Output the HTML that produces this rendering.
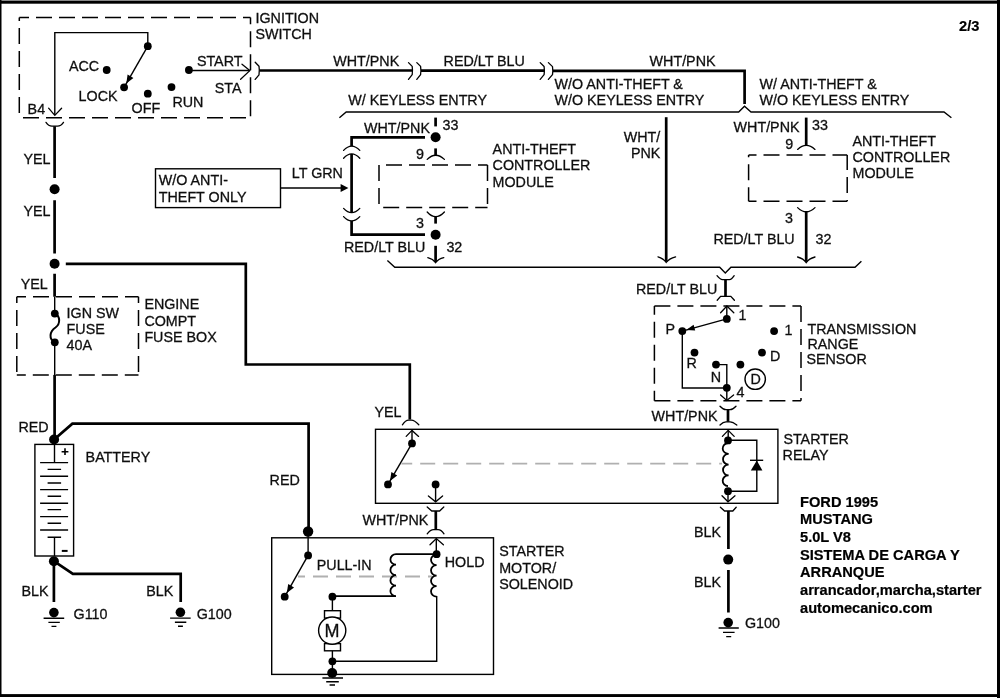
<!DOCTYPE html>
<html>
<head>
<meta charset="utf-8">
<title>Ford 1995 Mustang 5.0L V8 - Sistema de carga y arranque 2/3</title>
<style>
html,body{margin:0;padding:0;background:#fff;}
body{width:1000px;height:700px;overflow:hidden;}
svg{display:block;position:absolute;left:0;top:0;}
text{font-family:"Liberation Sans",sans-serif;font-size:14.3px;fill:#111;stroke:#111;stroke-width:0.3;}
.b{font-weight:bold;font-size:14.65px;fill:#000;stroke:#000;stroke-width:0.2;}
.tk{stroke:#000;stroke-width:2.7;fill:none;stroke-linejoin:miter;}
.tn{stroke:#000;stroke-width:1.4;fill:none;}
.cn{stroke:#000;stroke-width:1.3;fill:none;stroke-linecap:round;}
.ds{stroke:#000;stroke-width:1.5;fill:none;stroke-dasharray:16 7;}
.gd{stroke:#b0b0b0;stroke-width:1.8;fill:none;stroke-dasharray:15 8;}
.co{stroke:#000;stroke-width:1.8;fill:none;}
.d{fill:#000;}
</style>
</head>
<body>
<svg width="1000" height="700" viewBox="0 0 1000 700">
<rect x="0" y="0" width="1000" height="700" fill="#fff"/>
<!-- FRAME -->
<g id="frame">
<rect x="0" y="0" width="1000" height="1" fill="#888"/>
<rect x="0" y="1" width="1000" height="2.7" fill="#000"/>
<rect x="0" y="0" width="1.5" height="697" fill="#000"/>
<rect x="997" y="0" width="3" height="698" fill="#000"/>
<rect x="0" y="694.1" width="1000" height="2.9" fill="#000"/>
</g>
<defs><filter id="soft" x="0" y="0" width="1000" height="700" filterUnits="userSpaceOnUse"><feGaussianBlur stdDeviation="0.35"/></filter></defs>
<g id="content" filter="url(#soft)">
<!-- SECTION: ignition switch -->
<g id="ignition">
<!-- dashed box -->
<path class="ds" d="M19.3 17.6 H250.5" stroke-dasharray="17 6" stroke-dashoffset="6.3"/>
<path class="ds" d="M19.3 17.6 V117.7" stroke-dasharray="17 6" stroke-dashoffset="12.5"/>
<path class="ds" d="M19.3 117.7 H250.5" stroke-dasharray="17 6" stroke-dashoffset="19.3"/>
<path class="ds" d="M250.5 17.6 V117.7" stroke-dasharray="17 6.2" stroke-dashoffset="9.4"/>
<!-- inner wire -->
<path class="tn" d="M54.8 115 V32.6 H147.8 V46"/>
<path class="cn" d="M48.6 108.2 L54.8 115.4 L61.6 108.2"/>
<!-- contacts -->
<circle class="d" cx="147.8" cy="46.2" r="3.9"/>
<circle class="d" cx="106.7" cy="70" r="3.9"/>
<circle class="d" cx="124.1" cy="87.3" r="3.9"/>
<circle class="d" cx="147.8" cy="93.7" r="3.9"/>
<circle class="d" cx="171.5" cy="87.1" r="3.9"/>
<circle class="d" cx="188.9" cy="70" r="3.9"/>
<!-- wiper arrow -->
<path class="tn" d="M147.8 46.2 L124.1 87.3"/>
<path class="d" d="M126.3 83.4 L127.6 74.6 L133.4 78 Z"/>
<!-- start line -->
<path class="tn" d="M188.9 70.5 H249.8"/>
<path class="cn" d="M242 64.2 L249.8 70.6 L240.6 79.2"/>
<!-- connector at B4 -->
<path class="cn" d="M46 122.4 Q48.5 126.2 52 126.2 H57.5 Q61 126.2 63.5 122.4"/>
<!-- connector at START -->
<path class="cn" d="M255.2 62.2 L259 66.2 Q259.7 70.5 259 74.8 L255.2 79.4" stroke-linejoin="round"/>
</g>
<!-- SECTION: left column -->
<g id="leftcol">
<!-- YEL wire down from B4 -->
<path class="tk" d="M54.6 126.2 V178 M54.6 200.2 V253.6 M54.6 273.8 V296.8"/>
<circle class="d" cx="54.6" cy="189.3" r="5"/>
<circle class="d" cx="54.6" cy="263.8" r="5"/>
<!-- branch to relay -->
<path class="tk" d="M65.8 263.8 H245.8 V364.5 H409.8 V419.5"/>
<!-- fuse box -->
<path class="ds" d="M16.8 296.8 H138.5" stroke-dashoffset="6.8"/>
<path class="ds" d="M16.8 296.8 V374.9" stroke-dashoffset="9.8"/>
<path class="ds" d="M16.8 374.9 H138.5" stroke-dashoffset="7"/>
<path class="ds" d="M138.5 296.8 V374.9" stroke-dashoffset="9.8"/>
<path class="tn" d="M54.7 296.8 V313.6 M54.7 342.3 V375"/>
<circle class="d" cx="54.8" cy="313.6" r="3.9"/>
<circle class="d" cx="54.8" cy="342.3" r="3.9"/>
<path d="M54.8 313.6 C60.5 316 60.5 324 55.5 327.5 C49.5 331.5 48.5 339 54.8 342.3" stroke="#000" stroke-width="2" fill="none"/>
<!-- RED wire to battery -->
<path class="tk" d="M54.6 374.9 V439.5"/>
<circle class="d" cx="54.1" cy="439.5" r="5"/>
<path class="tk" d="M54.1 439.5 L72.4 423.7 H308.6 V531"/>
<circle class="d" cx="308.1" cy="531.5" r="5.2"/>
<!-- battery -->
<rect class="tn" x="34.9" y="444.4" width="38.7" height="111.6"/>
<path class="tn" d="M54.5 444.4 V462.6 M54.5 537.2 V556"/>
<path class="tn" d="M40.1 462.6 H68.1 M40.1 476.2 H68.1 M40.1 489.6 H68.1 M40.1 503.2 H68.1 M40.1 516.6 H68.1 M40.1 530 H68.1"/>
<path class="tn" d="M47.6 469.4 H61.1 M47.6 483 H61.1 M47.6 496.3 H61.1 M47.6 509.6 H61.1 M47.6 523.2 H61.1 M47.6 537.2 H61.1"/>
<path d="M61.6 451.7 H68.4 M65 448.3 V455.1" stroke="#000" stroke-width="1.6" fill="none"/>
<path d="M61.8 550.9 H67.6" stroke="#000" stroke-width="2" fill="none"/>
<!-- BLK wires -->
<circle class="d" cx="53.9" cy="561.2" r="5"/>
<path class="tk" d="M53.9 561 V602"/>
<path class="tk" d="M53.9 561.2 L72.9 573.9 H180.7 V602"/>
<!-- grounds -->
<circle class="d" cx="53.9" cy="612.6" r="4.8"/>
<path class="tn" d="M43.6 618.3 H64.2 M48.4 622.4 H59.8 M51.5 626.4 H56.4"/>
<circle class="d" cx="180.4" cy="612.3" r="4.8"/>
<path class="tn" d="M170.1 618.1 H190.7 M174.9 622.2 H186.3 M178 626.2 H182.9"/>
<!-- W/O anti-theft only box -->
<rect class="tn" x="155.5" y="168.8" width="125" height="38.8"/>
<path class="tn" d="M280.5 188 H343"/>
<path class="d" d="M348.4 188 L340.6 184 V192 Z"/>
</g>
<!-- SECTION: top wires -->
<g id="topwires">
<path class="tk" d="M259.6 70.5 H412.4"/>
<path class="cn" d="M408.5 62.6 L412.2 66.4 Q412.8 70.5 412.2 74.6 L408.5 79.4" stroke-linejoin="round"/>
<path class="cn" d="M416.8 62.6 L420.6 66.4 Q421.2 70.5 420.6 74.6 L416.8 79.4" stroke-linejoin="round"/>
<path class="tk" d="M421 70.6 H544.2"/>
<path class="cn" d="M540.2 62.6 L544.1 66.5 Q544.7 70.6 544.1 74.7 L540.2 79.4" stroke-linejoin="round"/>
<path class="cn" d="M548.4 62.6 L552.5 66.6 Q553.1 70.6 552.5 74.6 L548.4 79.4" stroke-linejoin="round"/>
<path class="tk" d="M552.9 70.9 H744.6 V104"/>
<!-- upper bracket line -->
<path class="tn" d="M339.4 117.8 L346.2 112 H738.7 L744.5 106.3 L751 112 H944 L951.4 117.8" stroke-width="1.2"/>
<!-- lower bracket line -->
<path class="tn" d="M387.4 260.6 L394.8 267.3 H719.7 L725.3 273 L730.9 267.3 H855 L861.4 261.2" stroke-width="1.2"/>
<!-- W/O anti-theft & W/O keyless: straight wire -->
<path class="tk" d="M666.2 117.2 V261.6"/>
<path class="cn" d="M658 256.8 Q663.5 258.5 666.2 262.4 Q669 258.5 675.6 256.8"/>
</g>
<!-- SECTION: modules -->
<g id="modules">
<!-- W/ keyless entry module (left) -->
<path class="tk" d="M435.6 117.6 V126.4" stroke-width="2.6"/>
<circle class="d" cx="435.6" cy="137.2" r="5"/>
<path class="tk" d="M425 137.4 H351.6 V146.2"/>
<path class="cn" d="M343.6 150.4 Q351.6 141.8 359.8 150.4"/>
<path class="cn" d="M343.6 158.2 Q351.6 149.6 359.8 158.2"/>
<path class="tk" d="M351.6 154 V212.6"/>
<path class="cn" d="M343.6 208.4 Q351.6 217 359.8 208.4"/>
<path class="cn" d="M343.6 216.6 Q351.6 225.2 359.8 216.6"/>
<path class="tk" d="M351.6 221 V234.7 H425"/>
<circle class="d" cx="435.6" cy="234.7" r="5"/>
<path class="tk" d="M435.6 245.8 V262" stroke-width="2.4"/>
<path class="cn" d="M427.8 257.6 Q433 259 435.6 262.6 Q438.2 259 443.8 257.6"/>
<!-- pin 9 symbol -->
<path class="tk" d="M435.6 148.4 V155.4" stroke-width="2.4"/>
<path class="cn" d="M427.2 159.4 Q435.6 151 444.4 159.4"/>
<!-- pin 3 symbol -->
<path class="cn" d="M427.2 212 Q435.6 221.4 444.4 212"/>
<path class="tk" d="M435.6 216.8 V223.6" stroke-width="2.4"/>
<!-- module box left -->
<path class="ds" d="M379 165 H487.5" stroke-dasharray="15.5 7.3" stroke-dashoffset="16"/>
<path class="ds" d="M379 165 V207.4" stroke-dasharray="15.5 7.3" stroke-dashoffset="0"/>
<path class="ds" d="M379 207.4 H487.5" stroke-dasharray="15.5 7.3" stroke-dashoffset="18.8"/>
<path class="ds" d="M487.5 165 V207.4" stroke-dasharray="15.5 7.3" stroke-dashoffset="0"/>
<!-- W/ anti-theft module (right) -->
<path class="tk" d="M806.2 117.6 V145.6"/>
<path class="cn" d="M797.6 149.4 Q806.2 141.4 815 149.4"/>
<path class="ds" d="M748.6 154.9 H847.2" stroke-dasharray="15.5 7.6" stroke-dashoffset="8.1"/>
<path class="ds" d="M748.6 154.9 V201.2" stroke-dasharray="15.5 7.3" stroke-dashoffset="13.6"/>
<path class="ds" d="M748.6 201.2 H847.2" stroke-dasharray="15.5 7.6" stroke-dashoffset="8.1"/>
<path class="ds" d="M847.2 154.9 V201.2" stroke-dasharray="15.5 7.3" stroke-dashoffset="1"/>
<path class="cn" d="M797.6 207.6 Q806.2 216 815 207.6"/>
<path class="tk" d="M806.2 211.4 V261.6"/>
<path class="cn" d="M797.6 257 Q803.4 258.6 806.2 262.6 Q809 258.6 815 257"/>
</g>
<!-- SECTION: sensor -->
<g id="sensor">
<!-- connector above sensor -->
<path class="cn" d="M717 275.7 Q720 279.6 722.6 279.6 H729.4 Q731.6 279.6 734.2 275.7"/>
<path class="tk" d="M725.5 279.6 V296.2" stroke-width="2.8"/>
<path class="cn" d="M717.2 300.2 L720.6 296.3 H730.8 L734.4 300.3"/>
<!-- dashed box -->
<path class="ds" d="M654.4 305.9 H801" stroke-dasharray="15.3 7.5" stroke-dashoffset="0"/>
<path class="ds" d="M654.4 305.9 V400.8" stroke-dasharray="16 6.8" stroke-dashoffset="7.2"/>
<path class="ds" d="M654.4 400.8 H801" stroke-dasharray="15.3 7.5" stroke-dashoffset="0"/>
<path class="ds" d="M801 305.9 V400.8" stroke-dasharray="17 6" stroke-dashoffset="0"/>
<!-- pin 1 arrow -->
<path class="tn" d="M726.8 306.4 V319"/>
<path class="cn" d="M720.6 312.8 L726.9 306 L733.8 312.8"/>
<circle class="d" cx="726.8" cy="318.9" r="3.9"/>
<circle class="d" cx="682.3" cy="331.1" r="3.9"/>
<path class="tn" d="M726.8 318.9 L682.3 331.1"/>
<path class="d" d="M686.2 330 L693.6 324.8 L695.2 330.6 Z"/>
<circle class="d" cx="774.1" cy="331.1" r="3.9"/>
<circle class="d" cx="694.5" cy="352.6" r="3.9"/>
<circle class="d" cx="762" cy="352.6" r="3.9"/>
<circle class="d" cx="716" cy="364.6" r="3.9"/>
<circle class="d" cx="740.4" cy="364.6" r="3.9"/>
<circle class="d" cx="726.8" cy="387.8" r="3.9"/>
<path class="tn" d="M682.3 331 V388 H726.8"/>
<path class="tn" d="M716 364.6 H726.8 V400"/>
<path class="cn" d="M720.6 395 L726.8 400.4 L733.6 395"/>
<circle class="tn" cx="755.2" cy="379.2" r="10.2"/>
<!-- connector below sensor -->
<path class="cn" d="M720 406.2 Q723.2 409.6 726 409.6 H730 Q732.8 409.6 736 406.2"/>
<path class="tk" d="M728 409.6 V421.8" stroke-width="2.5"/>
<path class="cn" d="M720 425 Q723.2 421.8 726 421.8 H730 Q732.8 421.8 736.8 425"/>
</g>
<!-- SECTION: relay -->
<g id="relay">
<rect class="tn" x="375.5" y="429.3" width="402.4" height="74"/>
<!-- YEL connector on top -->
<path class="cn" d="M402.4 424.8 Q405.6 420.2 408.6 420.2 H411.4 Q414.4 420.2 418.8 424.8"/>
<!-- switch -->
<path class="tn" d="M412 430.4 V443"/>
<path class="cn" d="M406.2 436.4 L412 430.4 L418.6 436.4"/>
<circle class="d" cx="412" cy="443.4" r="3.9"/>
<circle class="d" cx="388" cy="484.4" r="3.9"/>
<path class="tn" d="M412 443.4 L388 484.4"/>
<path class="d" d="M390 481 L391.4 472 L397.2 475.4 Z"/>
<circle class="d" cx="435.6" cy="484.4" r="3.9"/>
<path class="tn" d="M435.6 484.4 V501.4"/>
<path class="cn" d="M428.4 496 L435.6 501.8 L442.6 496"/>
<!-- gray dashed link -->
<path class="gd" d="M401.4 463.7 H722" stroke-dasharray="15 7.8" stroke-dashoffset="4.2"/>
<!-- coil -->
<path class="tn" d="M728.2 430.4 V440"/>
<path class="cn" d="M722.4 436.4 L728.2 430.4 L734.2 436.4"/>
<circle class="d" cx="728" cy="440.4" r="3.9"/>
<path class="co" d="M728 443 a5.6 5.4 0 0 0 0.6 10.8 a5.6 5.4 0 0 0 0 10.8 a5.6 5.4 0 0 0 0 10.8 a5.6 5.4 0 0 0 -0.6 10.8"/>
<circle class="d" cx="728" cy="491.2" r="3.9"/>
<path class="tn" d="M728 491 V501.4"/>
<path class="cn" d="M722 495.8 L728 501.8 L735 495.8"/>
<!-- diode -->
<path class="tn" d="M728 440.3 H756.8 V491.3 H728"/>
<path class="tn" d="M750 460.3 H763.2"/>
<path class="d" d="M756.8 460.4 L762.4 470.6 H750.8 Z"/>
<!-- connector bottom right (BLK) -->
<path class="cn" d="M720.4 507.2 L724.6 511 H732.8 L736.2 507.2"/>
<path class="tk" d="M728.4 511 V549"/>
<circle class="d" cx="728.2" cy="559.6" r="5"/>
<path class="tk" d="M728.4 570 V612.5"/>
<circle class="d" cx="728.2" cy="622.6" r="4.8"/>
<path class="tn" d="M718.6 628 H738.8 M723 632.4 H734.6 M726.2 636.6 H731.2"/>
<!-- connector bottom left (WHT/PNK) -->
<path class="cn" d="M427.2 507 L431.8 511 H439.6 L443.8 507"/>
<path class="tk" d="M435.8 511 V529.6" stroke-width="2.6"/>
<path class="cn" d="M427.2 533.8 Q430.4 529.6 433.6 529.6 H438 Q441.2 529.6 444 533.8"/>
</g>
<!-- SECTION: starter -->
<g id="starter">
<rect class="tn" x="271.7" y="537.8" width="221.8" height="136.6"/>
<!-- solenoid switch -->
<path class="tn" d="M308.1 536 V555.4"/>
<circle class="d" cx="308.1" cy="555.4" r="3.9"/>
<circle class="d" cx="284.7" cy="596.7" r="3.9"/>
<path class="tn" d="M308.1 555.4 L284.7 596.7"/>
<path class="d" d="M286.8 593 L288.2 584 L294 587.4 Z"/>
<!-- gray dashed -->
<path class="gd" d="M298 576.5 H432" stroke-width="1.1" stroke="#a0a0a0" stroke-dasharray="16 7" stroke-dashoffset="8"/>
<!-- hold terminal -->
<path class="tn" d="M436.3 538.6 V554"/>
<path class="cn" d="M430 544.8 L436.3 538.6 L443.4 544.8"/>
<circle class="d" cx="436.6" cy="554.2" r="3.9"/>
<!-- pull-in coil -->
<path class="co" d="M436.6 554.2 H396 a5.6 5.25 0 0 0 0 10.5 a5.6 5.25 0 0 0 0 10.5 a5.6 5.25 0 0 0 0 10.5 a5.6 5.25 0 0 0 0 10.5 H332.4" stroke-width="1.6"/>
<!-- hold coil -->
<path class="co" d="M436.6 554.6 a5.6 5.25 0 0 0 0 10.5 a5.6 5.25 0 0 0 0 10.5 a5.6 5.25 0 0 0 0 10.5 a5.6 5.25 0 0 0 0 10.5" stroke-width="1.6"/>
<path class="tn" d="M436.7 596 V661.3 H332.4"/>
<!-- motor -->
<circle class="d" cx="332.4" cy="596.7" r="3.9"/>
<path class="tn" d="M332.4 596.7 V610.6 M332.4 650.8 V673"/>
<rect class="tn" x="324.5" y="610.7" width="16" height="7.4"/>
<rect class="tn" x="324.5" y="643.6" width="16" height="7.2"/>
<circle cx="332.2" cy="630.6" r="13.6" fill="#fff" stroke="#000" stroke-width="1.4"/>
<circle class="d" cx="332.4" cy="661.3" r="3.9"/>
<circle class="d" cx="332.2" cy="673" r="5"/>
<path class="tn" d="M322.4 678 H343 M326.2 681.8 H338.8 M329.6 685 H335"/>
</g>
<!-- SECTION: text -->
<g id="labels">
<text x="255.5" y="23.3">IGNITION</text>
<text x="255.5" y="38.8">SWITCH</text>
<text x="69" y="70.7">ACC</text>
<text x="78.6" y="101.4">LOCK</text>
<text x="131.6" y="113.2">OFF</text>
<text x="172.4" y="107.4">RUN</text>
<text x="196.9" y="65.5">START</text>
<text x="214.8" y="93.2">STA</text>
<text x="27.6" y="113.6">B4</text>
<text x="23.4" y="163.8">YEL</text>
<text x="23.4" y="215.5">YEL</text>
<text x="20.8" y="289">YEL</text>
<text x="66.6" y="317.9">IGN SW</text>
<text x="66.6" y="334">FUSE</text>
<text x="66.6" y="349.6">40A</text>
<text x="144.4" y="309.3">ENGINE</text>
<text x="144.4" y="325.5">COMPT</text>
<text x="144.4" y="341.8">FUSE BOX</text>
<text x="18.4" y="432.2">RED</text>
<text x="85.6" y="462.4">BATTERY</text>
<text x="21.4" y="596.4">BLK</text>
<text x="146.3" y="596.4">BLK</text>
<text x="73.6" y="618.8">G110</text>
<text x="196.7" y="618.8">G100</text>
<text x="158.8" y="185">W/O ANTI-</text>
<text x="158.8" y="202">THEFT ONLY</text>
<text x="291.8" y="177.8">LT GRN</text>
<text x="333.3" y="65.5">WHT/PNK</text>
<text x="443.6" y="65.5">RED/LT BLU</text>
<text x="649.6" y="65.5">WHT/PNK</text>
<text x="348.2" y="105">W/ KEYLESS ENTRY</text>
<text x="554.5" y="88.8">W/O ANTI-THEFT &amp;</text>
<text x="554.5" y="105">W/O KEYLESS ENTRY</text>
<text x="759.5" y="88.8">W/ ANTI-THEFT &amp;</text>
<text x="759.5" y="105">W/O KEYLESS ENTRY</text>
<text x="364" y="132.7">WHT/PNK</text>
<text x="442.6" y="130.2">33</text>
<text x="416" y="158.8">9</text>
<text x="416" y="228.2">3</text>
<text x="344" y="252.4">RED/LT BLU</text>
<text x="446.4" y="252.4">32</text>
<text x="492.6" y="153.8">ANTI-THEFT</text>
<text x="492.6" y="170">CONTROLLER</text>
<text x="492.6" y="186.6">MODULE</text>
<text x="623.8" y="141.7">WHT/</text>
<text x="631" y="158.4">PNK</text>
<text x="733.6" y="132.2">WHT/PNK</text>
<text x="812" y="130.4">33</text>
<text x="785.2" y="149.4">9</text>
<text x="852.5" y="145.8">ANTI-THEFT</text>
<text x="852.5" y="162">CONTROLLER</text>
<text x="852.5" y="178.2">MODULE</text>
<text x="785" y="222.6">3</text>
<text x="713.4" y="243.8">RED/LT BLU</text>
<text x="815.5" y="243.8">32</text>
<text x="636" y="294">RED/LT BLU</text>
<text x="738.6" y="320.4">1</text>
<text x="665.6" y="334.2">P</text>
<text x="784.4" y="334.8">1</text>
<text x="686.4" y="368.2">R</text>
<text x="770" y="361">D</text>
<text x="710.8" y="382">N</text>
<text x="750.4" y="384">D</text>
<text x="736.4" y="397.2">4</text>
<text x="807.5" y="334.2">TRANSMISSION</text>
<text x="807.5" y="349.4">RANGE</text>
<text x="806.4" y="364.4">SENSOR</text>
<text x="651.6" y="420.8">WHT/PNK</text>
<text x="783.4" y="444.4">STARTER</text>
<text x="782.6" y="459.9">RELAY</text>
<text x="374.4" y="417">YEL</text>
<text x="269.6" y="485">RED</text>
<text x="362.4" y="525.4">WHT/PNK</text>
<text x="316.8" y="570">PULL-IN</text>
<text x="444.8" y="567.3">HOLD</text>
<text x="324.6" y="637.2" style="font-size:18px">M</text>
<text x="499.2" y="555.6">STARTER</text>
<text x="499.2" y="572.5">MOTOR/</text>
<text x="499.2" y="589.3">SOLENOID</text>
<text x="694" y="536.6">BLK</text>
<text x="694" y="586.8">BLK</text>
<text x="745" y="628.4">G100</text>
<text class="b" x="959" y="30.5">2/3</text>
<text class="b" x="800" y="506.8">FORD 1995</text>
<text class="b" x="800" y="523.8">MUSTANG</text>
<text class="b" x="800" y="541.8">5.0L V8</text>
<text class="b" x="800" y="559.5">SISTEMA DE CARGA Y</text>
<text class="b" x="800" y="577">ARRANQUE</text>
<text class="b" x="800" y="595">arrancador,marcha,starter</text>
<text class="b" x="800" y="612.5">automecanico.com</text>
</g>
</g>
</svg>
</body>
</html>
